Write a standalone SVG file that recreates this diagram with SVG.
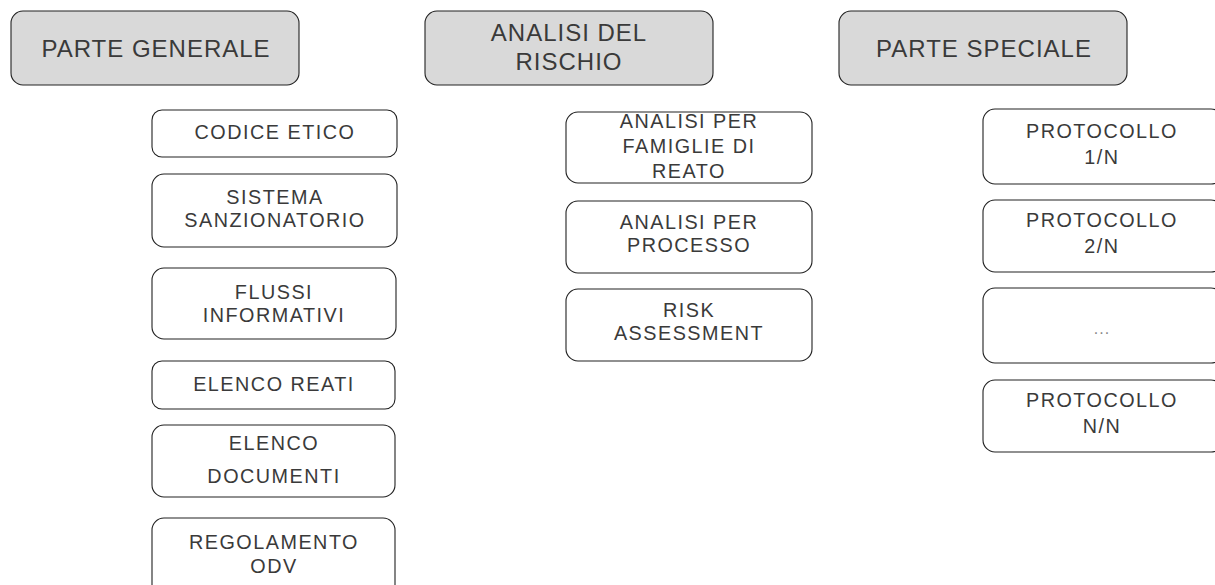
<svg xmlns="http://www.w3.org/2000/svg" width="1215" height="585" viewBox="0 0 1215 585">
<style>
.box{fill:#ffffff;stroke:#222;stroke-width:1.1}
.head{fill:#d9d9d9;stroke:#222;stroke-width:1.1}
text{font-family:"Liberation Sans",Arial,sans-serif;fill:#3a3a3a;text-anchor:middle}
.t1{font-size:24px;letter-spacing:1px}
.t2{font-size:19.8px;letter-spacing:1.5px}
.dots{font-size:16px;fill:#888;letter-spacing:1px}
</style>
<rect width="1215" height="585" fill="#ffffff"/>
<g id="connectors"/>
<g id="parte-generale"><rect class="head" x="11" y="11" width="288" height="74" rx="12"/><text class="t1" x="156" y="57">PARTE GENERALE</text></g>
<g id="analisi-rischio"><rect class="head" x="425" y="11" width="288" height="74" rx="12"/><text class="t1" x="569" y="41">ANALISI DEL</text><text class="t1" x="569" y="70">RISCHIO</text></g>
<g id="parte-speciale"><rect class="head" x="839" y="11" width="288" height="74" rx="12"/><text class="t1" x="984" y="57">PARTE SPECIALE</text></g>

<g id="codice-etico"><rect class="box" x="152" y="110" width="245" height="47" rx="10"/><text class="t2" x="275" y="139">CODICE ETICO</text></g>
<g id="sistema-sanzionatorio"><rect class="box" x="152" y="174" width="245" height="73" rx="12"/><text class="t2" x="275" y="204">SISTEMA</text><text class="t2" x="275" y="227">SANZIONATORIO</text></g>
<g id="flussi-informativi"><rect class="box" x="152" y="268" width="244" height="71" rx="12"/><text class="t2" x="274" y="299">FLUSSI</text><text class="t2" x="274" y="322">INFORMATIVI</text></g>
<g id="elenco-reati"><rect class="box" x="152" y="361" width="243" height="48" rx="10"/><text class="t2" x="274" y="391">ELENCO REATI</text></g>
<g id="elenco-documenti"><rect class="box" x="152" y="425" width="243" height="72" rx="12"/><text class="t2" x="274" y="450">ELENCO</text><text class="t2" x="274" y="483">DOCUMENTI</text></g>
<g id="regolamento-odv"><rect class="box" x="152" y="518" width="243" height="82" rx="12"/><text class="t2" x="274" y="549">REGOLAMENTO</text><text class="t2" x="274" y="573">ODV</text></g>

<g id="analisi-famiglie"><rect class="box" x="566" y="112" width="246" height="71" rx="12"/><text class="t2" x="689" y="128">ANALISI PER</text><text class="t2" x="689" y="153">FAMIGLIE DI</text><text class="t2" x="689" y="178">REATO</text></g>
<g id="analisi-processo"><rect class="box" x="566" y="201" width="246" height="72" rx="12"/><text class="t2" x="689" y="229">ANALISI PER</text><text class="t2" x="689" y="252">PROCESSO</text></g>
<g id="risk-assessment"><rect class="box" x="566" y="289" width="246" height="72" rx="12"/><text class="t2" x="689" y="317">RISK</text><text class="t2" x="689" y="340">ASSESSMENT</text></g>

<g id="protocollo-1"><rect class="box" x="983" y="109" width="240" height="75" rx="12"/><text class="t2" x="1102" y="138">PROTOCOLLO</text><text class="t2" x="1102" y="164">1/N</text></g>
<g id="protocollo-2"><rect class="box" x="983" y="200" width="240" height="72" rx="12"/><text class="t2" x="1102" y="227">PROTOCOLLO</text><text class="t2" x="1102" y="253">2/N</text></g>
<g id="protocollo-dots"><rect class="box" x="983" y="288" width="240" height="75" rx="12"/><text class="dots" x="1102" y="334">...</text></g>
<g id="protocollo-n"><rect class="box" x="983" y="380" width="240" height="72" rx="12"/><text class="t2" x="1102" y="407">PROTOCOLLO</text><text class="t2" x="1102" y="433">N/N</text></g>
</svg>
